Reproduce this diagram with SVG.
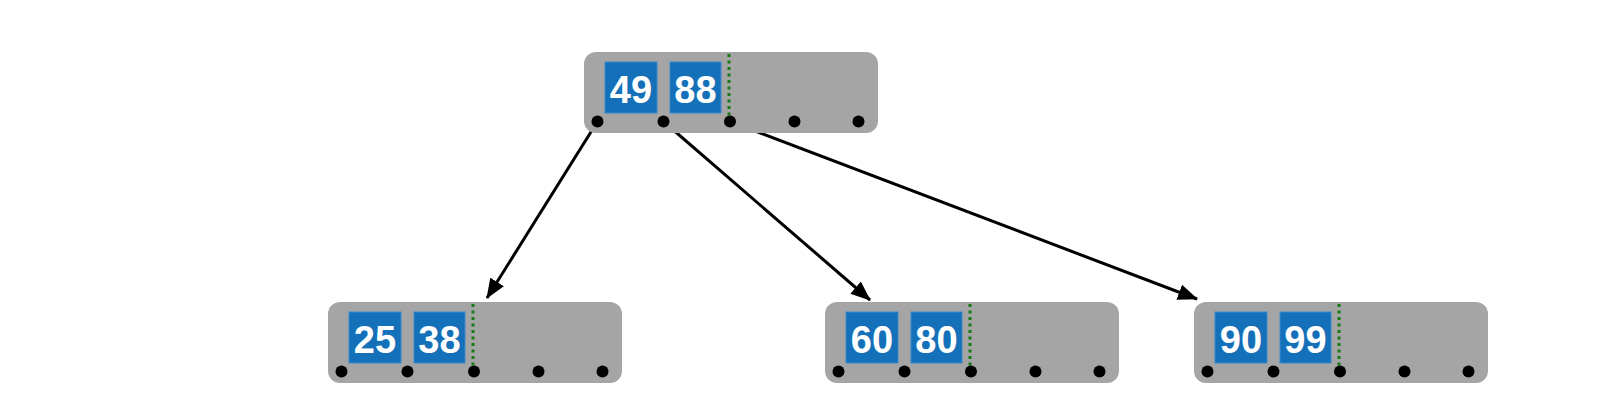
<svg xmlns="http://www.w3.org/2000/svg" width="1605" height="415" viewBox="0 0 1605 415">
  <defs>
    <style>
      .node { fill: #a5a5a5; }
      .key { fill: #1470b8; stroke: #3b8ad0; stroke-width: 1; }
      .txt { font-family: "Liberation Sans", Arial, sans-serif; font-weight: bold; font-size: 38px; fill: #ffffff; text-anchor: middle; }
      .sep { stroke: #167a16; stroke-width: 3; stroke-dasharray: 3 3.5; }
      .dot { fill: #000000; }
      .edge { stroke: #000000; stroke-width: 3; fill: none; }
    </style>
    <marker id="arrow" viewBox="0 0 20 16" refX="19" refY="8" markerWidth="20" markerHeight="16" markerUnits="userSpaceOnUse" orient="auto">
      <path d="M0,0 L20,8 L0,16 z" fill="#000000"/>
    </marker>
  </defs>

  <g id="connectors">
    <line class="edge" x1="597.5" y1="121.5" x2="487" y2="298" marker-end="url(#arrow)"/>
    <line class="edge" x1="663.5" y1="121.5" x2="870" y2="300" marker-end="url(#arrow)"/>
    <line class="edge" x1="730" y1="121.5" x2="1197" y2="299" marker-end="url(#arrow)"/>
  </g>

  <g id="node-root" transform="translate(584,52)">
    <rect class="node" x="0" y="0" width="294" height="81" rx="12"/>
    <rect class="key" x="21" y="10" width="52" height="51"/>
    <text class="txt" x="47" y="50.5">49</text>
    <rect class="key" x="86" y="10" width="51" height="51"/>
    <text class="txt" x="111.5" y="50.5">88</text>
    <line class="sep" x1="145" y1="2" x2="145" y2="64"/>
    <circle class="dot" cx="13.5" cy="69.5" r="6"/>
    <circle class="dot" cx="79.5" cy="69.5" r="6"/>
    <circle class="dot" cx="146" cy="69.5" r="6"/>
    <circle class="dot" cx="210.5" cy="69.5" r="6"/>
    <circle class="dot" cx="274.5" cy="69.5" r="6"/>
  </g>

  <g id="node-leaf1" transform="translate(328,302)">
    <rect class="node" x="0" y="0" width="294" height="81" rx="12"/>
    <rect class="key" x="21" y="10" width="52" height="51"/>
    <text class="txt" x="47" y="50.5">25</text>
    <rect class="key" x="86" y="10" width="51" height="51"/>
    <text class="txt" x="111.5" y="50.5">38</text>
    <line class="sep" x1="145" y1="2" x2="145" y2="64"/>
    <circle class="dot" cx="13.5" cy="69.5" r="6"/>
    <circle class="dot" cx="79.5" cy="69.5" r="6"/>
    <circle class="dot" cx="146" cy="69.5" r="6"/>
    <circle class="dot" cx="210.5" cy="69.5" r="6"/>
    <circle class="dot" cx="274.5" cy="69.5" r="6"/>
  </g>

  <g id="node-leaf2" transform="translate(825,302)">
    <rect class="node" x="0" y="0" width="294" height="81" rx="12"/>
    <rect class="key" x="21" y="10" width="52" height="51"/>
    <text class="txt" x="47" y="50.5">60</text>
    <rect class="key" x="86" y="10" width="51" height="51"/>
    <text class="txt" x="111.5" y="50.5">80</text>
    <line class="sep" x1="145" y1="2" x2="145" y2="64"/>
    <circle class="dot" cx="13.5" cy="69.5" r="6"/>
    <circle class="dot" cx="79.5" cy="69.5" r="6"/>
    <circle class="dot" cx="146" cy="69.5" r="6"/>
    <circle class="dot" cx="210.5" cy="69.5" r="6"/>
    <circle class="dot" cx="274.5" cy="69.5" r="6"/>
  </g>

  <g id="node-leaf3" transform="translate(1194,302)">
    <rect class="node" x="0" y="0" width="294" height="81" rx="12"/>
    <rect class="key" x="21" y="10" width="52" height="51"/>
    <text class="txt" x="47" y="50.5">90</text>
    <rect class="key" x="86" y="10" width="51" height="51"/>
    <text class="txt" x="111.5" y="50.5">99</text>
    <line class="sep" x1="145" y1="2" x2="145" y2="64"/>
    <circle class="dot" cx="13.5" cy="69.5" r="6"/>
    <circle class="dot" cx="79.5" cy="69.5" r="6"/>
    <circle class="dot" cx="146" cy="69.5" r="6"/>
    <circle class="dot" cx="210.5" cy="69.5" r="6"/>
    <circle class="dot" cx="274.5" cy="69.5" r="6"/>
  </g>
</svg>
